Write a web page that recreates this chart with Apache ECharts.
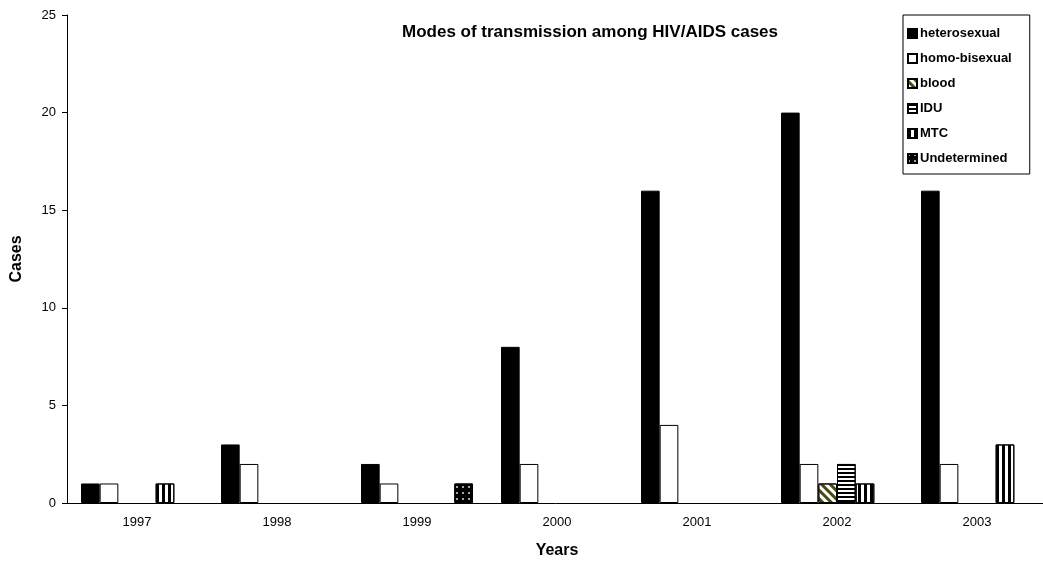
<!DOCTYPE html>
<html><head><meta charset="utf-8">
<script src="https://cdn.jsdelivr.net/npm/echarts@6/dist/echarts.min.js"></script>
<style>html,body{margin:0;padding:0;background:#fff}#c{width:1043px;height:567px}</style>
</head><body><div id="c"></div>
<script>
const categories = ['1997','1998','1999','2000','2001','2002','2003'];
const heterosexual = [1, 3, 2, 8, 16, 20, 16];
const homoBisexual = [1, 2, 1, 2, 4, 2, 2];
const blood = [0, 0, 0, 0, 0, 1, 0];
const idu = [0, 0, 0, 0, 0, 2, 0];
const mtc = [1, 0, 0, 0, 0, 1, 3];
const undetermined = [0, 0, 1, 0, 0, 0, 0];
const yTicks = [0, 5, 10, 15, 20, 25];

const F = '"Liberation Sans", Arial, sans-serif';
function bar(name, data, color, decal) {
  const s = {
    name, type: 'bar', data: data.map(v => v === 0 ? null : v),
    barGap: '0%', barCategoryGap: '20%',
    itemStyle: { color, borderColor: '#000', borderWidth: 1 }
  };
  if (decal) s.itemStyle.decal = decal;
  return s;
}
const chart = echarts.init(document.getElementById('c'), null, {renderer: 'canvas'});
chart.setOption({
  animation: false,
  aria: { enabled: true, decal: { show: false } },
  title: {
    text: 'Modes of transmission among HIV/AIDS cases',
    left: 585, top: 19, textAlign: 'center',
    textStyle: { fontFamily: F, fontSize: 17, fontWeight: 'bold', color: '#000' }
  },
  legend: {
    orient: 'vertical', left: 903, top: 15,
    borderColor: '#000', borderWidth: 1,
    padding: [11, 18, 8, 4],
    icon: 'rect',
    itemWidth: 9, itemHeight: 9, itemGap: 10,
    textStyle: { fontFamily: F, fontSize: 13, fontWeight: 'bold', color: '#000', padding: [0,0,0,-2], lineHeight: 15 },
    data: ['heterosexual','homo-bisexual','blood','IDU','MTC','Undetermined']
  },
  grid: { left: 67, right: -4, top: 15, bottom: 64, outerBoundsMode: 'none', containLabel: false },
  xAxis: {
    type: 'category', data: categories,
    name: 'Years', nameLocation: 'middle', nameGap: 40,
    nameTextStyle: { fontFamily: F, fontSize: 16, fontWeight: 'bold', color: '#000' },
    axisLine: { lineStyle: { color: '#000', width: 1 } },
    axisTick: { length: 5, lineStyle: { color: '#000' } },
    axisLabel: { fontFamily: F, fontSize: 13, color: '#000', margin: 13 }
  },
  yAxis: {
    type: 'value', min: 0, max: 25, interval: 5,
    name: 'Cases', nameLocation: 'middle', nameGap: 42,
    nameTextStyle: { fontFamily: F, fontSize: 16, fontWeight: 'bold', color: '#000' },
    axisLine: { show: true, lineStyle: { color: '#000', width: 1 } },
    axisTick: { show: true, length: 5, lineStyle: { color: '#000' } },
    splitLine: { show: false },
    axisLabel: { fontFamily: F, fontSize: 13, color: '#000', margin: 11,
      formatter: v => yTicks.includes(v) ? String(v) : '' }
  },
  series: [
    bar('heterosexual', heterosexual, '#000'),
    bar('homo-bisexual', homoBisexual, '#fff'),
    bar('blood', blood, '#fff', { symbol: 'rect', symbolSize: 1, color: '#4a4a14', dashArrayX: [[10, 0]], dashArrayY: [3, 3], rotation: Math.PI / 4 }),
    bar('IDU', idu, '#fff', { symbol: 'rect', symbolSize: 1, color: '#000', dashArrayX: [[10, 0]], dashArrayY: [2, 2], rotation: 0 }),
    bar('MTC', mtc, '#fff', { symbol: 'rect', symbolSize: 1, color: '#000', dashArrayX: [[3, 3]], dashArrayY: [10, 0], rotation: 0 }),
    bar('Undetermined', undetermined, '#000', { symbol: 'circle', symbolSize: 1, color: '#ddd', dashArrayX: [[2, 4]], dashArrayY: [2, 4], rotation: 0 })
  ]
});
</script></body></html>
